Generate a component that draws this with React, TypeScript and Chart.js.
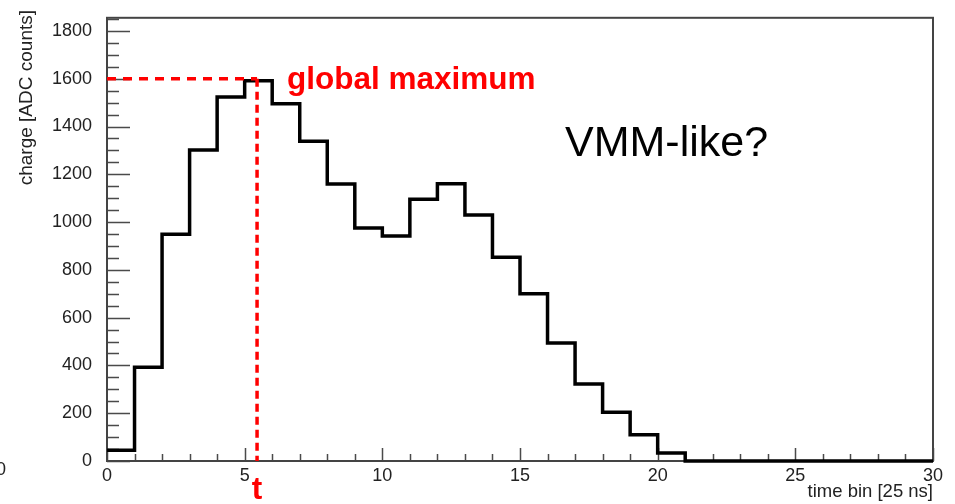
import React, { useEffect, useRef } from 'react';
import { Chart, registerables } from 'chart.js';

Chart.register(...registerables);

// ---- data ----
const binStarts = [0, 1, 2, 3, 4, 5, 6, 7, 8, 9, 10, 11, 12, 13, 14, 15, 16, 17, 18, 19, 20, 21, 22, 23, 24, 25, 26, 27, 28, 29];
const charge = [45, 392, 949, 1302, 1523, 1592, 1495, 1338, 1159, 975, 942, 1096, 1160, 1030, 853, 700, 494, 322, 204, 110, 33, 0, 0, 0, 0, 0, 0, 0, 0, 0];
const xTickValues = [0, 5, 10, 15, 20, 25, 30];
const yTickValues = [0, 200, 400, 600, 800, 1000, 1200, 1400, 1600, 1800];
const xRange = [0, 30];
const yRange = [0, 1855];
const tMax = 5.45;
const globalMax = 1600;
const xTitle = 'time bin [25 ns]';
const yTitle = 'charge [ADC counts]';
const maxLabel = 'global maximum';
const tLabel = 't';
const noteLabel = 'VMM-like?';

const FONT = '"Liberation Sans", Arial, Helvetica, sans-serif';

const decoPlugin = {
  id: 'deco',
  beforeDatasetsDraw(chart: any) {
    const { ctx, chartArea: a, scales } = chart;
    const xs = scales.x;
    const ys = scales.y;
    ctx.save();
    // ticks
    ctx.strokeStyle = '#4a4a4a';
    ctx.lineWidth = 1.5;
    ctx.beginPath();
    for (let v = 0; v <= yRange[1]; v += 50) {
      const y = Math.round(ys.getPixelForValue(v)) + 0.5;
      const len = v % 200 === 0 ? 23 : 12;
      ctx.moveTo(a.left, y);
      ctx.lineTo(a.left + len, y);
    }
    for (let v = xRange[0]; v <= xRange[1]; v += 1) {
      const x = Math.round(xs.getPixelForValue(v)) + 0.5;
      const len = v % 5 === 0 ? 13 : 7;
      ctx.moveTo(x, a.bottom);
      ctx.lineTo(x, a.bottom - len);
    }
    ctx.stroke();
    // frame
    ctx.strokeStyle = '#444';
    ctx.lineWidth = 2;
    ctx.strokeRect(a.left, a.top, a.right - a.left, a.bottom - a.top);
    ctx.restore();
  },
  afterDraw(chart: any) {
    const { ctx, chartArea: a, scales } = chart;
    const xs = scales.x;
    const ys = scales.y;
    ctx.save();
    // axis titles
    ctx.fillStyle = '#222';
    ctx.font = `18.5px ${FONT}`;
    ctx.textAlign = 'right';
    ctx.textBaseline = 'middle';
    ctx.fillText(xTitle, a.right, 492);
    ctx.save();
    ctx.translate(27, 10);
    ctx.rotate(-Math.PI / 2);
    ctx.font = `19px ${FONT}`;
    ctx.textAlign = 'right';
    ctx.fillText(yTitle, 0, 0);
    ctx.restore();
    // stray clipped zero at left edge
    ctx.font = `18px ${FONT}`;
    ctx.textAlign = 'right';
    ctx.fillText('0', 6, 470);
    // annotations
    ctx.fillStyle = '#ff0000';
    ctx.font = `bold 31.5px ${FONT}`;
    ctx.textAlign = 'left';
    ctx.textBaseline = 'alphabetic';
    ctx.fillText(maxLabel, 287, ys.getPixelForValue(globalMax) + 10);
    ctx.textAlign = 'center';
    ctx.fillText(tLabel, xs.getPixelForValue(tMax), 499);
    ctx.fillStyle = '#000';
    ctx.font = `43px ${FONT}`;
    ctx.textAlign = 'left';
    ctx.textBaseline = 'middle';
    ctx.fillText(noteLabel, 565, 144);
    ctx.restore();
  },
};

export default function App() {
  const ref = useRef<HTMLCanvasElement | null>(null);
  useEffect(() => {
    document.body.style.margin = '0';
    const histPoints = binStarts.map((x, i) => ({ x, y: charge[i] }));
    histPoints.push({ x: xRange[1], y: charge[charge.length - 1] });
    const chart = new Chart(ref.current as HTMLCanvasElement, {
      type: 'line',
      data: {
        datasets: [
          {
            data: [
              { x: xRange[0], y: globalMax },
              { x: tMax, y: globalMax },
            ],
            borderColor: '#ff0000',
            borderWidth: 3.5,
            borderDash: [9, 7],
            pointRadius: 0,
            fill: false,
            clip: 10,
          },
          {
            data: [
              { x: tMax, y: globalMax },
              { x: tMax, y: yRange[0] },
            ],
            borderColor: '#ff0000',
            borderWidth: 3.5,
            borderDash: [8, 5],
            pointRadius: 0,
            fill: false,
            clip: 10,
          },
          {
            data: histPoints,
            stepped: 'before',
            borderColor: '#000',
            borderWidth: 3.5,
            pointRadius: 0,
            fill: false,
            clip: 10,
          },
        ],
      },
      options: {
        animation: false,
        responsive: false,
        devicePixelRatio: 1,
        layout: { padding: { left: 0, top: 6, right: 22, bottom: 0 } },
        plugins: { legend: { display: false }, tooltip: { enabled: false } },
        scales: {
          x: {
            type: 'linear',
            min: xRange[0],
            max: xRange[1],
            grid: { display: false },
            border: { display: false },
            afterBuildTicks: (s: any) => {
              s.ticks = xTickValues.map((v) => ({ value: v }));
            },
            afterFit: (s: any) => {
              s.height = 43;
            },
            ticks: {
              autoSkip: false,
              maxRotation: 0,
              padding: -4,
              color: '#222',
              font: { family: FONT, size: 18 },
              callback: (v: any) => String(v),
            },
          },
          y: {
            type: 'linear',
            min: yRange[0],
            max: yRange[1],
            grid: { display: false },
            border: { display: false },
            afterBuildTicks: (s: any) => {
              s.ticks = yTickValues.map((v) => ({ value: v }));
            },
            afterFit: (s: any) => {
              s.width = 107;
            },
            ticks: {
              padding: 7,
              color: '#222',
              font: { family: FONT, size: 18 },
              callback: (v: any) => String(v),
            },
          },
        },
      },
      plugins: [decoPlugin],
    } as any);
    return () => chart.destroy();
  }, []);
  return (
    <div style={{ position: 'absolute', left: 0, top: 0, width: 955, height: 504 }}>
      <canvas ref={ref} width={955} height={504} />
    </div>
  );
}
